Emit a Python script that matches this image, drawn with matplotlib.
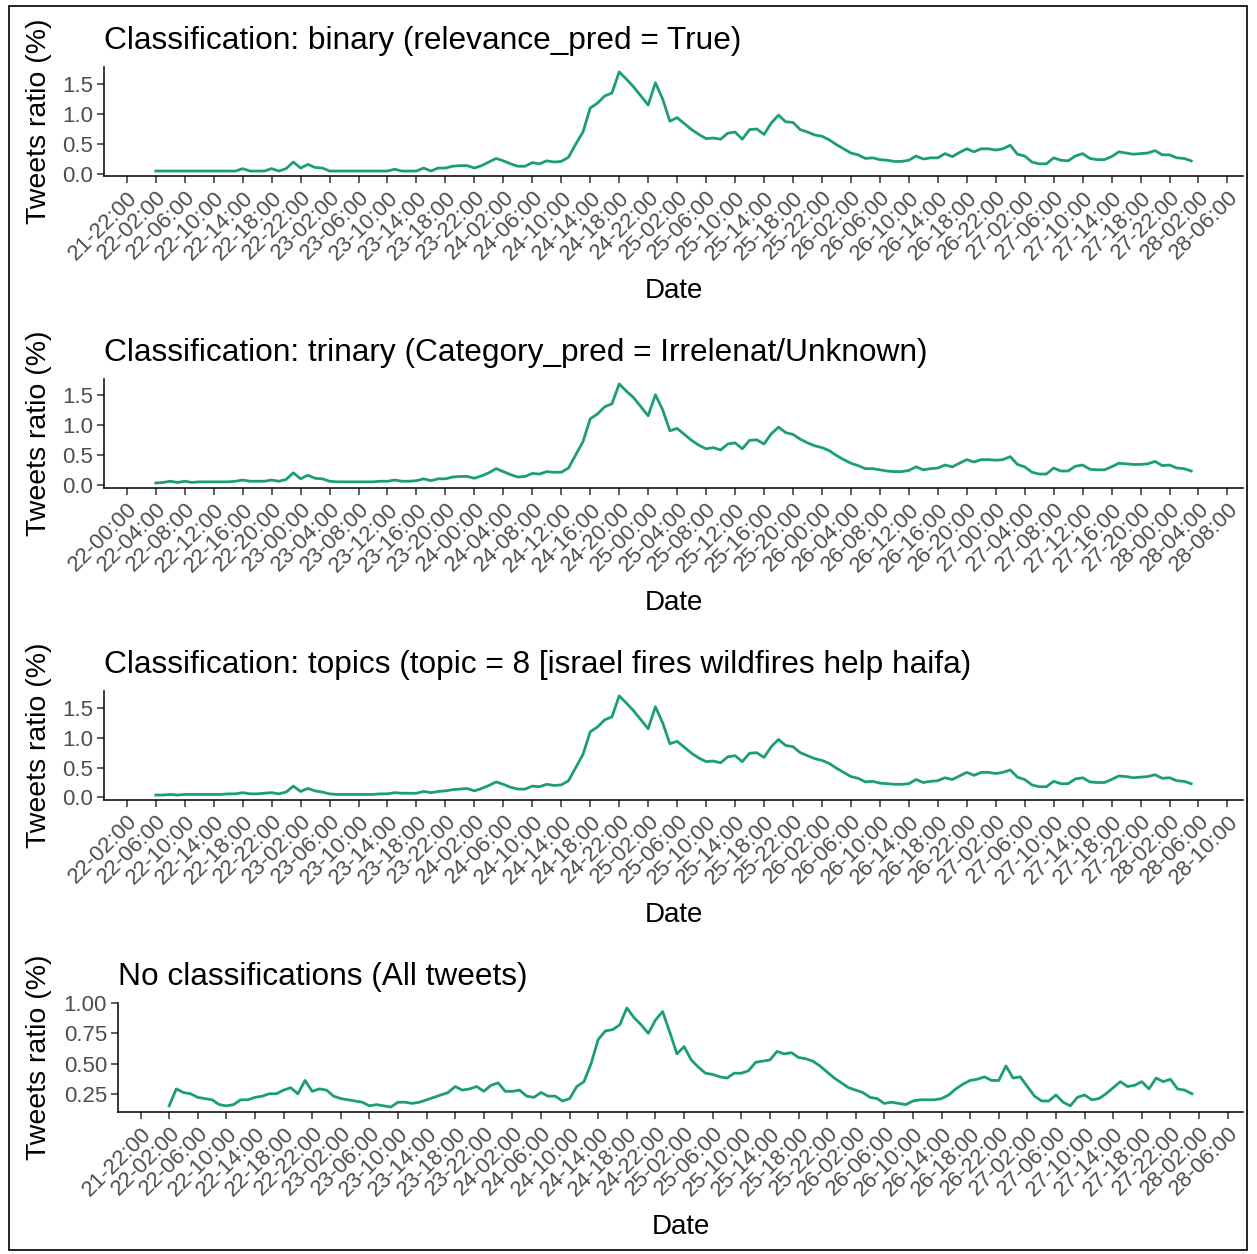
import pandas as pd
import matplotlib
matplotlib.use('Agg')
import matplotlib.pyplot as plt
from matplotlib.patches import Rectangle

plt.rcParams['font.family'] = ['Liberation Sans', 'DejaVu Sans']

# hourly tweet ratios (%), first value at 2016-11-22 02:00
start = '2016-11-22 02:00'

binary = [0.05, 0.05, 0.05, 0.05, 0.05, 0.05, 0.05, 0.05, 0.05, 0.05, 0.05, 0.05,
          0.09, 0.05, 0.05, 0.05, 0.09, 0.05, 0.09, 0.20, 0.10, 0.16, 0.11, 0.10, 0.05,
          0.05, 0.05, 0.05, 0.05, 0.05, 0.05, 0.05, 0.05,
          0.08, 0.05, 0.05, 0.05, 0.10, 0.05, 0.10, 0.10, 0.13, 0.14, 0.14, 0.10, 0.14,
          0.20, 0.26, 0.22, 0.17, 0.13, 0.13, 0.19, 0.17, 0.22, 0.20, 0.21, 0.28, 0.50,
          0.70, 1.10, 1.18, 1.30, 1.35, 1.70, 1.58, 1.45, 1.30, 1.15, 1.52, 1.25, 0.88,
          0.94, 0.84, 0.74, 0.66, 0.59, 0.60, 0.58, 0.68, 0.70, 0.58, 0.74, 0.75, 0.66,
          0.85, 0.98, 0.87, 0.86, 0.74, 0.70, 0.65, 0.63, 0.57, 0.49, 0.42, 0.35, 0.32,
          0.26, 0.27, 0.24, 0.23, 0.21, 0.21, 0.23, 0.30, 0.25, 0.27, 0.27, 0.34, 0.29,
          0.36, 0.42, 0.37, 0.42, 0.42, 0.40, 0.42, 0.48, 0.33, 0.30, 0.20, 0.17, 0.17,
          0.27, 0.23, 0.22, 0.30, 0.34, 0.26, 0.24, 0.24, 0.29, 0.37, 0.35, 0.33, 0.34,
          0.35, 0.39, 0.32, 0.32, 0.27, 0.26, 0.22]

trinary = [0.03, 0.04, 0.06, 0.04, 0.06, 0.04, 0.05, 0.05, 0.05, 0.05, 0.05, 0.06,
           0.08, 0.06, 0.06, 0.06, 0.08, 0.06, 0.09, 0.20, 0.10, 0.16, 0.11, 0.10, 0.06,
           0.05, 0.05, 0.05, 0.05, 0.05, 0.05, 0.06, 0.06,
           0.08, 0.06, 0.06, 0.07, 0.10, 0.07, 0.10, 0.10, 0.13, 0.14, 0.14, 0.11, 0.15,
           0.20, 0.27, 0.22, 0.17, 0.13, 0.14, 0.19, 0.18, 0.22, 0.21, 0.21, 0.28, 0.50,
           0.72, 1.10, 1.18, 1.30, 1.35, 1.68, 1.56, 1.45, 1.30, 1.15, 1.50, 1.25, 0.90,
           0.94, 0.84, 0.74, 0.66, 0.60, 0.62, 0.58, 0.68, 0.70, 0.60, 0.74, 0.75, 0.68,
           0.85, 0.96, 0.87, 0.84, 0.76, 0.70, 0.65, 0.62, 0.57, 0.49, 0.42, 0.36, 0.32,
           0.27, 0.27, 0.25, 0.23, 0.22, 0.22, 0.24, 0.30, 0.25, 0.27, 0.28, 0.33, 0.30,
           0.36, 0.42, 0.38, 0.42, 0.42, 0.41, 0.42, 0.47, 0.34, 0.30, 0.21, 0.18, 0.18,
           0.28, 0.23, 0.23, 0.31, 0.33, 0.26, 0.25, 0.25, 0.30, 0.36, 0.35, 0.34, 0.34,
           0.35, 0.39, 0.32, 0.33, 0.28, 0.27, 0.23]

topics = [0.04, 0.04, 0.05, 0.04, 0.05, 0.05, 0.05, 0.05, 0.05, 0.05, 0.06, 0.06,
          0.08, 0.06, 0.06, 0.07, 0.08, 0.06, 0.09, 0.19, 0.10, 0.15, 0.11, 0.09, 0.06,
          0.05, 0.05, 0.05, 0.05, 0.05, 0.05, 0.06, 0.06,
          0.08, 0.07, 0.07, 0.07, 0.10, 0.08, 0.10, 0.11, 0.13, 0.14, 0.15, 0.11, 0.15,
          0.20, 0.26, 0.22, 0.17, 0.14, 0.14, 0.19, 0.18, 0.22, 0.20, 0.21, 0.28, 0.50,
          0.72, 1.10, 1.18, 1.30, 1.35, 1.70, 1.58, 1.45, 1.30, 1.15, 1.52, 1.25, 0.90,
          0.94, 0.84, 0.74, 0.66, 0.60, 0.61, 0.58, 0.68, 0.70, 0.60, 0.74, 0.75, 0.67,
          0.85, 0.97, 0.87, 0.85, 0.75, 0.70, 0.65, 0.62, 0.57, 0.49, 0.42, 0.35, 0.32,
          0.26, 0.27, 0.24, 0.23, 0.22, 0.22, 0.23, 0.30, 0.25, 0.27, 0.28, 0.33, 0.30,
          0.36, 0.42, 0.37, 0.42, 0.42, 0.40, 0.42, 0.46, 0.34, 0.30, 0.21, 0.18, 0.18,
          0.27, 0.23, 0.23, 0.31, 0.33, 0.26, 0.25, 0.25, 0.30, 0.36, 0.35, 0.33, 0.34,
          0.35, 0.38, 0.32, 0.33, 0.28, 0.27, 0.23]

all_tweets = [0.15, 0.29, 0.26, 0.25, 0.22, 0.21, 0.20, 0.16, 0.15, 0.16, 0.20, 0.20,
              0.22, 0.23, 0.25, 0.25, 0.28, 0.30, 0.25, 0.36, 0.27, 0.29, 0.28, 0.23,
              0.21, 0.20, 0.19, 0.18, 0.15, 0.16, 0.15, 0.14, 0.18, 0.18, 0.17, 0.18,
              0.20, 0.22, 0.24, 0.26, 0.31, 0.28, 0.29, 0.31, 0.27, 0.32, 0.34, 0.27,
              0.27, 0.28, 0.23, 0.22, 0.26, 0.23, 0.23, 0.19, 0.21, 0.31, 0.35, 0.50,
              0.70, 0.77, 0.78, 0.82, 0.96, 0.88, 0.82, 0.75, 0.86, 0.93, 0.76, 0.58,
              0.64, 0.53, 0.47, 0.42, 0.41, 0.39, 0.38, 0.42, 0.42, 0.44, 0.51, 0.52,
              0.53, 0.60, 0.58, 0.59, 0.55, 0.54, 0.52, 0.48, 0.43, 0.38, 0.34, 0.30,
              0.28, 0.26, 0.22, 0.21, 0.17, 0.18, 0.17, 0.16, 0.19, 0.20, 0.20, 0.20,
              0.21, 0.24, 0.29, 0.33, 0.36, 0.37, 0.39, 0.36, 0.36, 0.48, 0.38, 0.39,
              0.31, 0.23, 0.19, 0.19, 0.24, 0.18, 0.15, 0.22, 0.24, 0.20, 0.21, 0.25,
              0.30, 0.35, 0.31, 0.32, 0.35, 0.29, 0.38, 0.35, 0.37, 0.29, 0.28, 0.25]

titles = ['Classification: binary (relevance_pred = True)',
          'Classification: trinary (Category_pred = Irrelenat/Unknown)',
          'Classification: topics (topic = 8 [israel fires wildfires help haifa)',
          'No classifications (All tweets)']
series = [binary, trinary, topics, all_tweets]
# tick labels come out shifted by a few hours in some panels
label_shift = [0, 2, 4, 0]
yticks = [[0.0, 0.5, 1.0, 1.5], [0.0, 0.5, 1.0, 1.5], [0.0, 0.5, 1.0, 1.5],
          [0.25, 0.50, 0.75, 1.00]]
ytick_fmt = ['{:.1f}', '{:.1f}', '{:.1f}', '{:.2f}']

tick_dates = pd.date_range('2016-11-21 22:00', '2016-11-28 06:00', freq='4h')

W, H = 1257, 1254
fig = plt.figure(figsize=(W / 100, H / 100), dpi=100)
fig.patches.append(Rectangle((9 / W, 1 - 1250 / H), 1238 / W, 1244 / H,
                             transform=fig.transFigure, fill=False,
                             edgecolor='black', linewidth=1.2))

tops = [67, 379, 691, 1003]
lefts = [104, 104, 104, 118]
right = 1243
ax_h = 109

for i in range(4):
    left = lefts[i]
    ax = fig.add_axes([left / W, 1 - (tops[i] + ax_h) / H, (right - left) / W, ax_h / H])
    dates = pd.date_range(start, periods=len(series[i]), freq='h')
    ax.plot(dates, series[i], color='#1B9E77', linewidth=2.0)
    ax.margins(x=0.05, y=0.05)

    ax.set_xticks(tick_dates)
    labels = [(d + pd.Timedelta(hours=label_shift[i])).strftime('%d-%H:%M') for d in tick_dates]
    ax.set_xticklabels(labels, rotation=45, ha='right', va='top', rotation_mode='anchor',
                       fontsize=16, color='#4D4D4D')
    ax.set_yticks(yticks[i])
    ax.set_yticklabels([ytick_fmt[i].format(v) for v in yticks[i]], fontsize=16,
                       color='#4D4D4D')
    ax.tick_params(length=5, width=1.1, color='#333333', pad=3)

    for s in ['top', 'right']:
        ax.spines[s].set_visible(False)
    for s in ['left', 'bottom']:
        ax.spines[s].set_linewidth(1.1)

    ax.set_title(titles[i], loc='left', fontsize=22.8, pad=13)
    ax.set_xlabel('Date', fontsize=20)
    ax.set_ylabel('Tweets ratio (%)', fontsize=20.5)
    ax.xaxis.set_label_coords(0.5, -102 / ax_h)
    ax.yaxis.set_label_coords((52 - left) / (right - left), 0.5)

fig.savefig('out.png', dpi=100)
